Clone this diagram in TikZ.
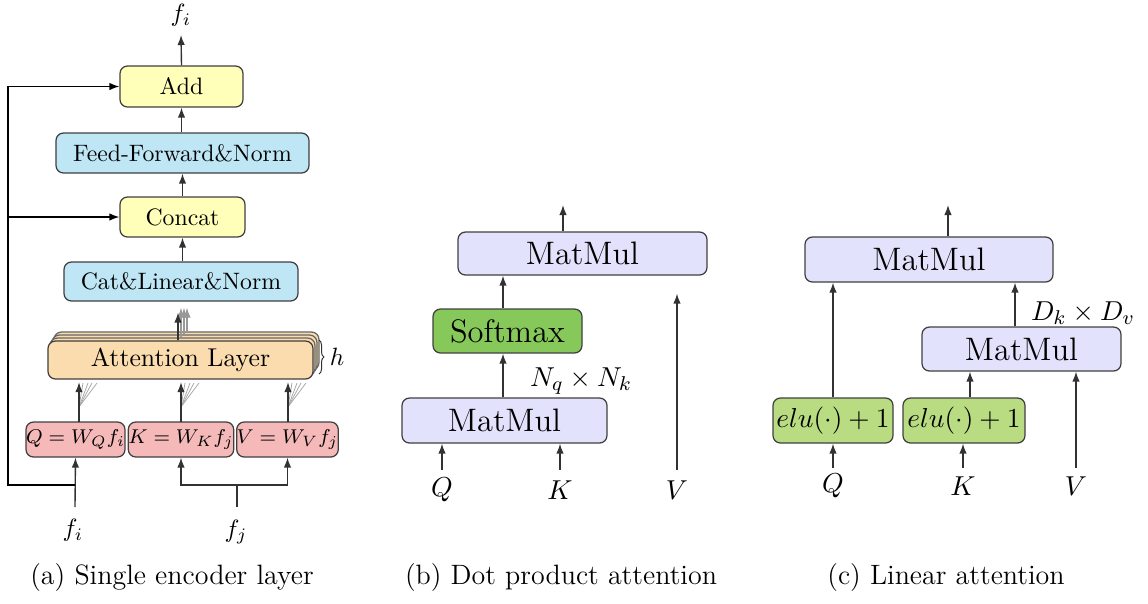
\documentclass[tikz,border=0pt]{standalone}
\usetikzlibrary{arrows.meta,decorations.pathreplacing,calc}
\definecolor{cyel}{RGB}{255,255,185}
\definecolor{cblue}{RGB}{190,230,245}
\definecolor{corange}{RGB}{250,220,175}
\definecolor{cpink}{RGB}{245,185,185}
\definecolor{clav}{RGB}{226,226,252}
\definecolor{cgreen}{RGB}{135,200,90}
\definecolor{cgreenl}{RGB}{185,220,130}
\definecolor{cline}{RGB}{50,50,50}
\begin{document}
\begin{tikzpicture}[x=0.4pt,y=-0.4pt,
  box/.style={draw=black!75,line width=0.5pt,rounded corners=3pt,inner sep=0pt,align=center},
  arr/.style={draw=cline,line width=0.55pt,-{Latex[length=4pt,width=3pt]}},
  garr/.style={draw=black!40,line width=0.45pt,-{Latex[length=4pt,width=3pt]}},
  fan/.style={draw=black!35,line width=0.3pt},
  plain/.style={draw=cline,line width=0.55pt},
  fa/.style={font=\fontsize{9.5}{11}\selectfont},
  fatt/.style={font=\fontsize{10.3}{12}\selectfont},
  fpink/.style={font=\fontsize{8.1}{10}\selectfont},
  fbig/.style={font=\fontsize{13}{15}\selectfont},
  fmid/.style={font=\fontsize{11}{13}\selectfont},
  flab/.style={font=\fontsize{10}{12}\selectfont,inner sep=0pt},
  fcap/.style={font=\fontsize{11.2}{13}\selectfont}]
\useasboundingbox (0,0) rectangle (1148,603);

% ---------------- (a) ----------------
\node[box,fill=cyel,minimum width=49.2pt,minimum height=16.4pt,fa] (add) at (181.5,86.5) {Add};
\node[box,fill=cblue,minimum width=101.2pt,minimum height=16pt,fa] (ff) at (182.5,153) {Feed-Forward\&Norm};
\node[box,fill=cyel,minimum width=50pt,minimum height=16pt,fa] (concat) at (182.5,217) {Concat};
\node[box,fill=cblue,minimum width=93.6pt,minimum height=15.6pt,fa] (cat) at (181,281.5) {Cat\&Linear\&Norm};

\node[box,draw=black!60,fill=corange,minimum width=106pt,minimum height=15.2pt] (att3) at (186.5,351) {};
\node[box,draw=black!60,fill=corange,minimum width=106pt,minimum height=15.2pt] (att2) at (184.5,354) {};
\node[box,draw=black!60,fill=corange,minimum width=106pt,minimum height=15.2pt] (att1) at (182.5,357) {};
\node[box,fill=corange,minimum width=106pt,minimum height=15.2pt,fatt] (att) at (180.5,360) {Attention Layer};
\draw[plain,line width=0.4pt,decorate,decoration={brace,amplitude=2pt}] (319,340) -- (319,374);
\node[flab] (h) at (337,357) {$h$};

\node[box,fill=cpink,minimum width=38.8pt,minimum height=14pt,fpink] (q) at (75.5,439.5) {$Q=W_Qf_i$};
\node[box,fill=cpink,minimum width=39.2pt,minimum height=14pt,fpink] (k) at (181,439.5) {$K=W_Kf_j$};
\node[box,fill=cpink,minimum width=38.8pt,minimum height=14pt,fpink] (v) at (287.5,439.5) {$V=W_Vf_j$};

% arrows between boxes
\coordinate (fitop) at (181,35);
\node[flab] (fiout) at (181,15) {$f_i$};
\draw[arr] (add.north) -- (fitop);
\draw[arr] (ff.north -| add.north) -- (add.south);
\draw[arr] (concat.north) -- (concat.north |- ff.south);
\draw[arr] (cat.north -| concat.north) -- (concat.south);

\coordinate (a0) at (178,0);
\coordinate (a1) at (181,0);
\coordinate (a2) at (184,0);
\coordinate (a3) at (187,0);
\draw[garr,shorten >=2.4pt] (a3 |- att3.north) -- (a3 |- cat.south);
\draw[garr,shorten >=2.4pt] (a2 |- att2.north) -- (a2 |- cat.south);
\draw[garr,shorten >=2.4pt] (a1 |- att1.north) -- (a1 |- cat.south);
\draw[arr,shorten >=4.4pt] (a0 |- att.north) -- (a0 |- cat.south);

% pink -> attention
\coordinate (qa) at (79,422);
\coordinate (ka) at (181,422);
\coordinate (va) at (288,422);
\foreach \p in {qa,ka,va}{
  \foreach \d in {4,9,13,18}{
    \draw[fan] ($(\p)+(0,-15)$) -- ($(\p)+(\d,-39)$);
  }
  \draw[arr,shorten >=1pt] (\p) -- (\p |- att.south);
}

% inputs
\coordinate (fi0) at (75,507);
\node[flab] (fil) at (73,530) {$f_i$};
\draw[arr] (fi0) -- (q.south);
\coordinate (sk) at (75,485);
\coordinate (skl) at (8,485);
\draw[arr,draw=black] (sk) -- (skl) -- (skl |- add.west) -- (add.west);
\draw[arr,draw=black] (skl |- concat.west) -- (concat.west);

\coordinate (fj0) at (237,507);
\coordinate (fj1) at (237,485);
\node[flab] (fjl) at (236,532) {$f_j$};
\draw[plain] (fj0) -- (fj1);
\draw[arr] (fj1) -- (fj1 -| k.south) -- (k.south);
\draw[arr] (fj1) -- (fj1 -| v.south) -- (v.south);

% ---------------- (b) ----------------
\node[box,fill=clav,minimum width=99.6pt,minimum height=17.2pt,fbig] (mm1b) at (582.5,253.5) {MatMul};
\node[box,fill=cgreen,minimum width=59.6pt,minimum height=17.6pt,fbig] (smx) at (507.5,331) {Softmax};
\node[box,fill=clav,minimum width=82pt,minimum height=18pt,fbig] (mm2b) at (504.5,420.5) {MatMul};

\coordinate (bo) at (563,205);
\draw[arr] (bo |- mm1b.north) -- (bo);
\coordinate (bx) at (503,0);
\draw[arr] (bx |- smx.north) -- (bx |- mm1b.south);
\draw[arr] (bx |- mm2b.north) -- (bx |- smx.south);
\node[fmid] (nqk) at (581,381) {$N_q\times N_k$};

\coordinate (qb0) at (442,470);
\coordinate (kb0) at (560,470);
\coordinate (vb0) at (677,470);
\node[fmid,inner sep=0pt] (qbl) at (442,490) {$Q$};
\node[fmid,inner sep=0pt] (kbl) at (560,490) {$K$};
\node[fmid,inner sep=0pt] (vbl) at (677,490) {$V$};
\draw[arr] (qb0) -- (qb0 |- mm2b.south);
\draw[arr] (kb0) -- (kb0 |- mm2b.south);
\draw[arr,shorten >=7.2pt] (vb0) -- (vb0 |- mm1b.south);

% ---------------- (c) ----------------
\node[box,fill=clav,minimum width=99.2pt,minimum height=18pt,fbig] (mmA) at (929,259.5) {MatMul};
\node[box,fill=clav,minimum width=79.6pt,minimum height=17.6pt,fbig] (mmB) at (1021.5,349) {MatMul};
\node[box,fill=cgreenl,minimum width=48pt,minimum height=18pt,fmid] (elu1) at (833,420.5) {$elu(\cdot)+1$};
\node[box,fill=cgreenl,minimum width=48.8pt,minimum height=18pt,fmid] (elu2) at (964,420.5) {$elu(\cdot)+1$};

\coordinate (co) at (948,205);
\draw[arr] (co |- mmA.north) -- (co);
\draw[arr] (elu1.north) -- (elu1.north |- mmA.south);
\coordinate (cx) at (1015,0);
\draw[arr] (cx |- mmB.north) -- (cx |- mmA.south);
\node[fmid] (dkv) at (1083,313) {$D_k\times D_v$};
\coordinate (cx2) at (970,0);
\draw[arr] (cx2 |- elu2.north) -- (cx2 |- mmB.south);

\coordinate (qc0) at (833,468);
\coordinate (kc0) at (963,468);
\coordinate (vc0) at (1076,468);
\node[fmid,inner sep=0pt] (qcl) at (833,486) {$Q$};
\node[fmid,inner sep=0pt] (kcl) at (963,486) {$K$};
\node[fmid,inner sep=0pt] (vcl) at (1076,486) {$V$};
\draw[arr] (qc0) -- (qc0 |- elu1.south);
\draw[arr] (kc0) -- (kc0 |- elu2.south);
\draw[arr] (vc0) -- (vc0 |- mmB.south);

% ---------------- captions ----------------
\node[fcap] (capa) at (172,577) {(a) Single encoder layer};
\node[fcap] (capb) at (561,577) {(b) Dot product attention};
\node[fcap] (capc) at (946,577) {(c) Linear attention};
\end{tikzpicture}
\end{document}
